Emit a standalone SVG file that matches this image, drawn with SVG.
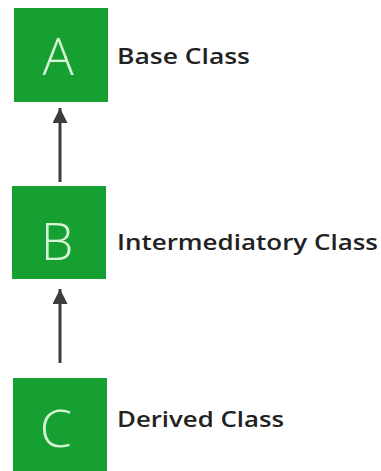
<svg xmlns="http://www.w3.org/2000/svg" width="381" height="471" viewBox="0 0 381 471">
  <defs>
    <style>
      .box { fill: #17a032; }
      .letter { font-family: "Open Sans", "Liberation Sans", sans-serif; font-weight: 300; font-size: 52px; fill: #d6f5d6; text-anchor: middle; }
      .label { font-family: "Open Sans", "Liberation Sans", sans-serif; font-weight: 600; font-size: 21px; fill: #222222; }
      .edge { stroke: #3d3d3d; stroke-width: 3; fill: none; }
    </style>
    <marker id="head" viewBox="0 0 10 10" refX="10" refY="5" markerWidth="5" markerHeight="5" orient="auto" markerUnits="strokeWidth">
      <path d="M0,0 L10,5 L0,10 Z" fill="#3d3d3d"/>
    </marker>
  </defs>
  <rect width="381" height="471" fill="#ffffff"/>

  <g id="connectors">
    <line class="edge" x1="60" y1="182" x2="60" y2="108" marker-end="url(#head)"/>
    <line class="edge" x1="60" y1="363" x2="60" y2="289" marker-end="url(#head)"/>
  </g>

  <g id="node-a">
    <rect class="box" x="14" y="8" width="94" height="94"/>
    <text class="letter" x="58" y="75">A</text>
    <text class="label" x="117" y="64" textLength="133" lengthAdjust="spacingAndGlyphs">Base Class</text>
  </g>

  <g id="node-b">
    <rect class="box" x="12" y="186" width="94" height="93"/>
    <text class="letter" x="57" y="260">B</text>
    <text class="label" x="117" y="250" textLength="261" lengthAdjust="spacingAndGlyphs">Intermediatory Class</text>
  </g>

  <g id="node-c">
    <rect class="box" x="13" y="378" width="94" height="100"/>
    <text class="letter" x="56" y="447">C</text>
    <text class="label" x="117" y="427" textLength="167" lengthAdjust="spacingAndGlyphs">Derived Class</text>
  </g>
</svg>
